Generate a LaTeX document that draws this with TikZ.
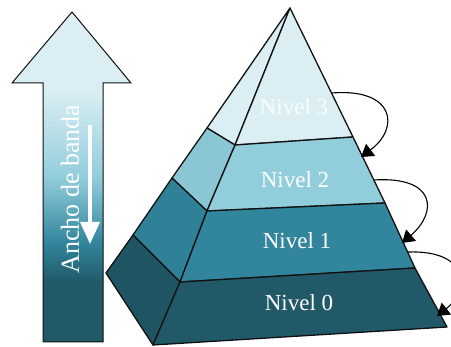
\documentclass[tikz,border=0pt]{standalone}
\usepackage{fontspec}
\setmainfont{Liberation Serif}
\usetikzlibrary{arrows.meta}

\definecolor{lvlthree}{HTML}{DAEEF3}
\definecolor{lvltwo}{HTML}{92CDDC}
\definecolor{lvlone}{HTML}{31859C}
\definecolor{lvlzero}{HTML}{215968}
\definecolor{sidetwo}{HTML}{8BC6D5}
\definecolor{sideone}{HTML}{2E8196}
\definecolor{sidezero}{HTML}{1F5562}
\definecolor{edge}{HTML}{111111}

% bandwidth arrow: light at the top, dark teal at the bottom
\pgfdeclareverticalshading{bandwidth}{100bp}{%
  color(0bp)=(lvlzero); color(25bp)=(lvlzero); color(34bp)=(lvlzero);
  color(40bp)=(lvlone); color(50bp)=(lvltwo); color(63bp)=(lvlthree);
  color(75bp)=(lvlthree); color(100bp)=(lvlthree)}

\tikzset{
  face/.style={draw=edge, line width=1.3pt, line join=round},
  lvllabel/.style={text=white, font=\fontsize{23}{27}\selectfont, inner sep=0pt},
  hop/.style={draw=black, line width=1.1pt, -{Triangle[length=12pt,width=15pt]}},
}

\begin{document}
\begin{tikzpicture}[x=1pt,y=-1pt]
\useasboundingbox (0,0) rectangle (451,347);

% ---- bandwidth arrow ----
\coordinate (tip) at (72,12);
\coordinate (hl) at (12,83);
\coordinate (hr) at (131,83);
\coordinate (sl) at (43,83);
\coordinate (sr) at (103,83);
\coordinate (bl) at (43,342);
\coordinate (br) at (103,342);
\shade[shading=bandwidth, draw=edge, line width=1pt, line join=miter]
  (tip) -- (hr) -- (sr) -- (br) -- (bl) -- (sl) -- (hl) -- cycle;
\node[rotate=90, text=white, font=\fontsize{26}{30}\selectfont, inner sep=0pt]
  (bwlabel) at (70,189) {Ancho de banda};
\coordinate (dtop) at (90,125);
\coordinate (dbot) at (90,244);
\draw[white, line width=3.5pt, -{Triangle[length=22pt,width=19pt]}] (dtop) -- (dbot);

% ---- pyramid corners ----
\coordinate (A) at (290,8);
\coordinate (B3) at (207,128);
\coordinate (B2) at (172,178);
\coordinate (B1) at (133,235);
\coordinate (B0) at (106,273);
\coordinate (F3) at (235,145);
\coordinate (F2) at (207,211);
\coordinate (F1) at (180,282);
\coordinate (F0) at (153,345);
\coordinate (R3) at (353,137);
\coordinate (R2) at (385,203);
\coordinate (R1) at (415,268);
\coordinate (R0) at (447,327);

% side faces
\filldraw[face, fill=lvlthree] (A) -- (B3) -- (F3) -- cycle;
\filldraw[face, fill=sidetwo] (B3) -- (B2) -- (F2) -- (F3) -- cycle;
\filldraw[face, fill=sideone] (B2) -- (B1) -- (F1) -- (F2) -- cycle;
\filldraw[face, fill=sidezero] (B1) -- (B0) -- (F0) -- (F1) -- cycle;
% front faces
\filldraw[face, fill=lvlthree] (A) -- (F3) -- (R3) -- cycle;
\filldraw[face, fill=lvltwo] (F3) -- (F2) -- (R2) -- (R3) -- cycle;
\filldraw[face, fill=lvlone] (F2) -- (F1) -- (R1) -- (R2) -- cycle;
\filldraw[face, fill=lvlzero] (F1) -- (F0) -- (R0) -- (R1) -- cycle;

% level labels
\node[lvllabel, text opacity=0.85] (n3) at (294,107) {Nivel 3};
\node[lvllabel] (n2) at (295,180) {Nivel 2};
\node[lvllabel] (n1) at (297,241) {Nivel 1};
\node[lvllabel] (n0) at (299,303) {Nivel 0};

% ---- hops between levels ----
\coordinate (s3) at (332,93);
\coordinate (e3) at (361,157);
\coordinate (s2) at (374,180);
\coordinate (e2) at (402,243);
\coordinate (s1) at (408,252);
\coordinate (e1) at (437,316);
\begin{scope}
\clip (0,0) rectangle (451,347);
\draw[hop] (s3) .. controls (395,88) and (400,128) .. (e3);
\draw[hop] (s2) .. controls (436,176) and (438,212) .. (e2);
\draw[hop] (s1) .. controls (470,250) and (470,290) .. (e1);
\end{scope}
\end{tikzpicture}
\end{document}
